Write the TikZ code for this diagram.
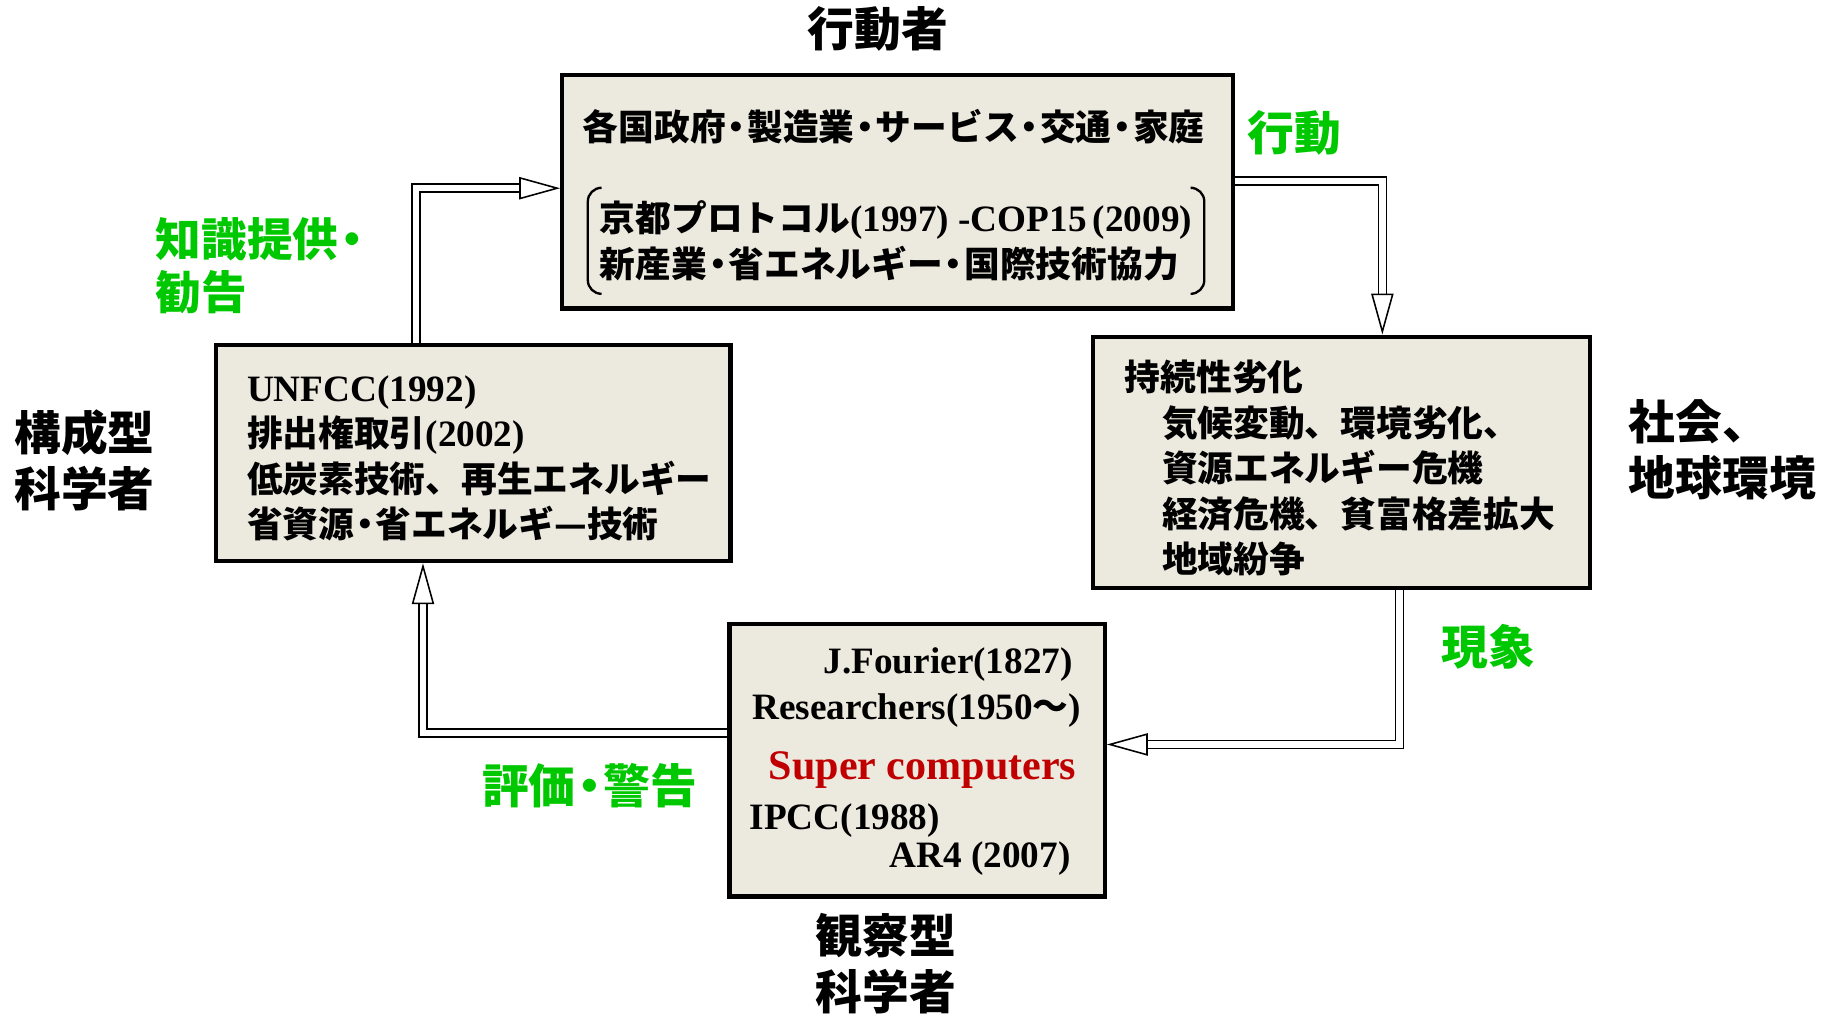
\documentclass[tikz,border=0pt]{standalone}
\usepackage{fontspec}
\setmainfont{Liberation Serif}
\newfontfamily\jp{Noto Sans CJK JP}[Scale=0.96]
\usetikzlibrary{arrows.meta,positioning,calc}

\definecolor{boxfill}{HTML}{ECE9DF}
\definecolor{actgreen}{HTML}{00C800}
\definecolor{compred}{HTML}{C00000}
\newcommand{\jdot}{\kern-.2em ・\kern-.2em}

\tikzset{
  box/.style={draw, rectangle, line width=2.2pt, fill=boxfill},
  boxtext/.style={font=\bfseries\fontsize{19.1}{23.4}\selectfont, align=left, inner sep=0pt},
  bigtext/.style={font=\jp\bfseries\fontsize{25}{28.8}\selectfont, inner sep=0pt},
  greentext/.style={bigtext, text=actgreen},
  flow/.style={double, double distance=3.3pt, line width=0.8pt,
    -{Triangle[length=21pt, width=11.4pt, fill=white, line width=0.8pt]}},
  bracket/.style={line width=1.2pt, rounded corners=7pt},
}

\begin{document}
\begin{tikzpicture}[x=0.6pt, y=-0.6pt]
\useasboundingbox (0,0) rectangle (1568,868);

% Actors (top)
\node[box, minimum width=344.4pt, minimum height=120pt] (actor) at (768,164) {};
\node[boxtext] (actline) at (764.5,108) {\jp 各国政府\jdot 製造業\jdot サービス\jdot 交通\jdot 家庭};
\node[boxtext, minimum width=316pt, minimum height=54pt] (kyoto) at (766.5,206)
  {{\jp 京都プロトコル}(1997) -COP15\,(2009)\\{\jp 新産業\jdot 省エネルギー\jdot 国際技術協力}};
\draw[bracket] ([xshift=6pt]kyoto.north west) -- (kyoto.north west) -- (kyoto.south west) -- ([xshift=6pt]kyoto.south west);
\draw[bracket] ([xshift=-6pt]kyoto.north east) -- (kyoto.north east) -- (kyoto.south east) -- ([xshift=-6pt]kyoto.south east);

% Constructive scientists (left)
\node[box, minimum width=264pt, minimum height=111pt] (policy) at (405,387.5) {};
\node[boxtext, anchor=west] (policytext) at (211,392)
  {UNFCC(1992)\\{\jp 排出権取引}(2002)\\{\jp 低炭素技術、再生エネルギー}\\{\jp 省資源\jdot 省エネルギ—技術}};

% Society and earth (right)
\node[box, minimum width=255pt, minimum height=129pt] (earth) at (1147.5,395.5) {};
\node[boxtext, anchor=west] (earthtext) at (962,400.5)
  {{\jp 持続性劣化}\\
   \hspace*{19pt}{\jp 気候変動、環境劣化、}\\
   \hspace*{19pt}{\jp 資源エネルギー危機}\\
   \hspace*{19pt}{\jp 経済危機、貧富格差拡大}\\
   \hspace*{19pt}{\jp 地域紛争}};

% Observational scientists (bottom)
\node[box, minimum width=192.6pt, minimum height=139.8pt] (observe) at (784.5,650.5) {};
\node[boxtext, anchor=east] (fourier) at (918,568.5) {J.Fourier(1827)};
\node[boxtext, anchor=east] (research) at (925,607.5) {Researchers(1950{\jp 〜})};
\node[boxtext, anchor=east, text=compred, font=\bfseries\fontsize{21.6}{26}\selectfont] (supercomp) at (921,658.5) {Super computers};
\node[boxtext, anchor=west] (ipcc) at (641,701.5) {IPCC(1988)};
\node[boxtext, anchor=east] (ar4) at (916,734.5) {AR4 (2007)};

% Outer labels
\node[bigtext] (actors) at (751,25) {行動者};
\node[bigtext, anchor=west, align=left] (builders) at (12,394) {構成型\\科学者};
\node[bigtext, anchor=west, align=left] (society) at (1393,385) {社会、\\地球環境};
\node[bigtext, align=center] (observers) at (758,824) {観察型\\科学者};

\node[greentext, anchor=west] (act) at (1067,114) {行動};
\node[greentext, anchor=west, align=left, font=\jp\bfseries\fontsize{24.4}{27}\selectfont] (advice) at (133,227.5) {知識提供\kern-.2em ・\\勧告};
\node[greentext, anchor=west] (phenom) at (1233,553) {現象};
\node[greentext, anchor=west] (warn) at (412,672) {評価\jdot 警告};

% Cycle
\draw[flow] ([xshift=-29.4pt]policy.north) |- ([yshift=1.8pt]actor.west);
\draw[flow] ([yshift=5.6pt]actor.east) -| ([xshift=21pt]earth.north);
\draw[flow] ([xshift=29.9pt]earth.south) |- ([yshift=8.2pt]observe.east);
\draw[flow] ([yshift=14.2pt]observe.west) -| ([xshift=-25.9pt]policy.south);

\end{tikzpicture}
\end{document}
